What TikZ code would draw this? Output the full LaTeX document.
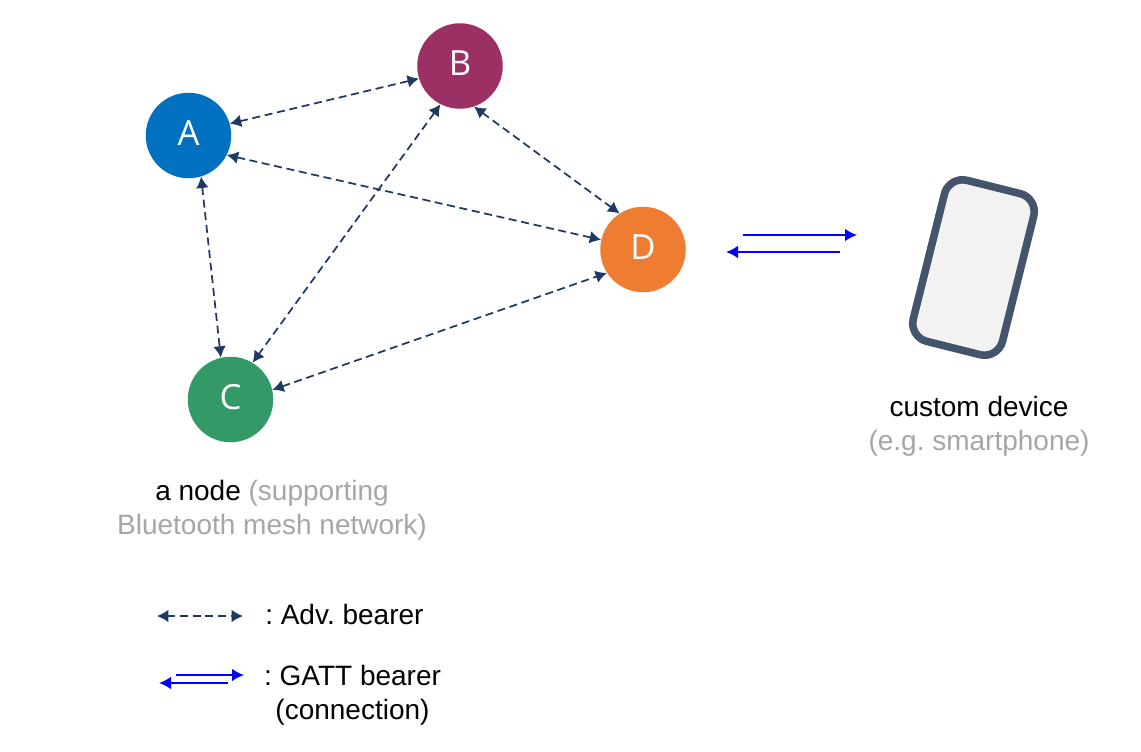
\documentclass[tikz,border=0pt]{standalone}
\usepackage{fontspec}
\setmainfont{Liberation Sans}
\newfontfamily\letterfont{Open Sans}
\usetikzlibrary{arrows.meta}
\definecolor{nodeblue}{RGB}{0,112,192}
\definecolor{nodepurple}{RGB}{155,48,100}
\definecolor{nodegreen}{RGB}{51,153,102}
\definecolor{nodeorange}{RGB}{239,125,49}
\definecolor{advnavy}{RGB}{31,56,100}
\definecolor{phoneedge}{RGB}{68,84,106}
\definecolor{phonefill}{RGB}{242,242,242}
\definecolor{notegray}{RGB}{166,166,166}
\frenchspacing
\tikzset{
  mesh/.style={circle,inner sep=0pt,minimum size=85.5*0.75pt,text=white,text depth=4pt,font=\letterfont\fontsize{26}{30}\selectfont},
  adv/.style={{Latex[length=8.5pt,width=9.5pt]}-{Latex[length=8.5pt,width=9.5pt]},advnavy,dash pattern=on 6pt off 3.5pt,line width=1.3pt},
  gatt/.style={-{Latex[length=9pt,width=9.5pt]},blue,line width=1.3pt},
  label/.style={font=\fontsize{21}{25.5}\selectfont,align=center,text=black,inner sep=0pt}
}
\begin{document}
\begin{tikzpicture}[x=0.75pt,y=-0.75pt]
  \useasboundingbox (0,0) rectangle (1141,751);
  \node[mesh,fill=nodeblue] (A) at (188.5,135.5) {A};
  \node[mesh,fill=nodepurple] (B) at (460,66) {B};
  \node[mesh,fill=nodegreen] (C) at (230.5,399.5) {C};
  \node[mesh,fill=nodeorange] (D) at (643,249.5) {D};
  \draw[adv] (A.16) -- (B.197);
  \draw[adv] (A.-73) -- (C.103);
  \draw[adv] (A.-27) -- (D.167);
  \draw[adv] (B.243) -- (C.59);
  \draw[adv] (B.-71) -- (D.123);
  \draw[adv] (C.13) -- (D.213);
  % link to the phone
  \coordinate (g1) at (743,235);
  \coordinate (g2) at (857,235);
  \coordinate (g3) at (840,252);
  \coordinate (g4) at (726,252);
  \draw[gatt] (g1) -- (g2);
  \draw[gatt] (g3) -- (g4);
  \node[rectangle,draw=phoneedge,fill=phonefill,line width=5.7pt,rounded corners=14pt,rotate=-14,minimum width=92*0.75pt,minimum height=166*0.75pt] (phone) at (973.5,267.5) {};
  \node[label] (devlabel) at (979,426) {custom device\\\textcolor{notegray}{(e.g. smartphone)}};
  \node[label] (nodelabel) at (272,510.5) {a node \textcolor{notegray}{(supporting}\\\textcolor{notegray}{Bluetooth mesh network)}};
  % legend
  \coordinate (l1) at (157,616);
  \coordinate (l2) at (243,616);
  \coordinate (l3) at (176,675);
  \coordinate (l4) at (244,675);
  \coordinate (l5) at (228,683);
  \coordinate (l6) at (159,683);
  \draw[adv] (l1) -- (l2);
  \draw[gatt] (l3) -- (l4);
  \draw[gatt] (l5) -- (l6);
  \node[label,anchor=west] (advlabel) at (265,614) {: Adv. bearer};
  \node[label] (gattlabel) at (352.5,695) {: GATT bearer\\(connection)};
\end{tikzpicture}
\end{document}
